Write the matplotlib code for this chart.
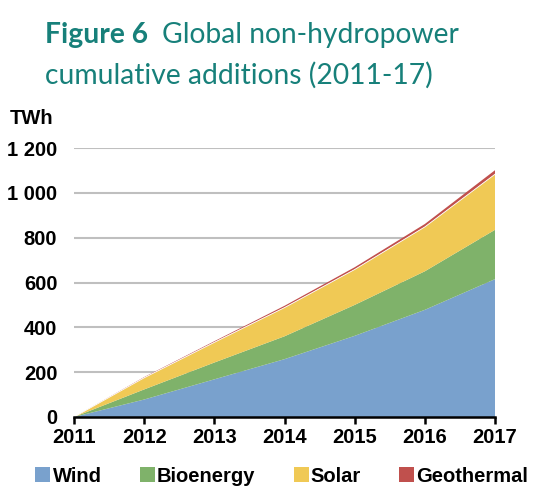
import matplotlib
matplotlib.use("Agg")
import matplotlib.pyplot as plt
from matplotlib.patches import Patch
import numpy as np

years = [2011, 2012, 2013, 2014, 2015, 2016, 2017]
wind = [0, 78, 168, 258, 362, 478, 615]
bioenergy = [0, 45, 75, 102, 138, 172, 220]
solar = [0, 52, 90, 128, 158, 198, 248]
geothermal = [0, 3, 5, 8, 10, 13, 18]
series_names = ["Wind", "Bioenergy", "Solar", "Geothermal"]
colors = ["#79a1cd", "#7fb26a", "#f0c955", "#c0504d"]
yticks = [0, 200, 400, 600, 800, 1000, 1200]
ytick_labels = ["0", "200", "400", "600", "800", "1 000", "1 200"]

fig = plt.figure(figsize=(5.42, 4.96), dpi=100)
ax = fig.add_axes([74/542, 1-417/496, (495-74)/542, (417-148)/496])

polys = ax.stackplot(years, wind, bioenergy, solar, geothermal, colors=colors, linewidth=0)
# thin white separation under geothermal band
lower = np.array(wind) + np.array(bioenergy) + np.array(solar)
ax.plot(years, lower, color="white", lw=0.6, zorder=3)
ax.set_xlim(2011, 2017)
ax.set_ylim(0, 1200)
ax.set_yticks(yticks)
ax.set_yticklabels(ytick_labels)
ax.set_xticks(years)
for y in yticks[1:]:
    ax.axhline(y, color="#bfbfbf", lw=1.5, zorder=0)
ax.set_axisbelow(True)
for s in ["top", "right", "left"]:
    ax.spines[s].set_visible(False)
ax.spines["bottom"].set_linewidth(1.8)
ax.spines["bottom"].set_zorder(5)
ax.tick_params(axis="y", length=0, pad=12)
ax.tick_params(axis="x", direction="out", length=5, width=1.8, pad=3)
for lab in ax.get_xticklabels() + ax.get_yticklabels():
    lab.set_fontfamily("Liberation Sans")
    lab.set_fontweight("bold")
    lab.set_fontsize(14.5)

fig.text(10/542, 1-118/496, "TWh", fontfamily="Liberation Sans", fontweight="bold",
         fontsize=14.5, va="center", ha="left")

teal = "#17807a"
renderer = fig.canvas.get_renderer()
tfont = "Lato"
probe = fig.text(0, 0, "cumulative additions (2011-17)", fontsize=20, fontfamily=tfont)
w = probe.get_window_extent(renderer).width
probe.remove()
fs = 20 * 388 / w

t1 = fig.text(45/542, 1-35/496, "Figure 6", fontsize=fs, color=teal, va="center", ha="left",
              fontfamily=tfont, fontweight="bold")
x1 = t1.get_window_extent(renderer).x1
fig.text((x1 + 14)/542, 1-35/496, "Global non-hydropower", fontsize=fs, color=teal,
         va="center", ha="left", fontfamily=tfont)
fig.text(45/542, 1-75/496, "cumulative additions (2011-17)", fontsize=fs, color=teal,
         va="center", ha="left", fontfamily=tfont)

handles = [Patch(facecolor=c, edgecolor="none") for c in colors]
fig.legend(handles, series_names, loc="center", bbox_to_anchor=(0.52, 1-476/496), ncol=4,
           frameon=False, handlelength=0.75, handleheight=0.75, handletextpad=0.1,
           columnspacing=1.9, prop={"family": "Liberation Sans", "weight": "bold", "size": 14.5})

fig.savefig("out.png", dpi=100)
